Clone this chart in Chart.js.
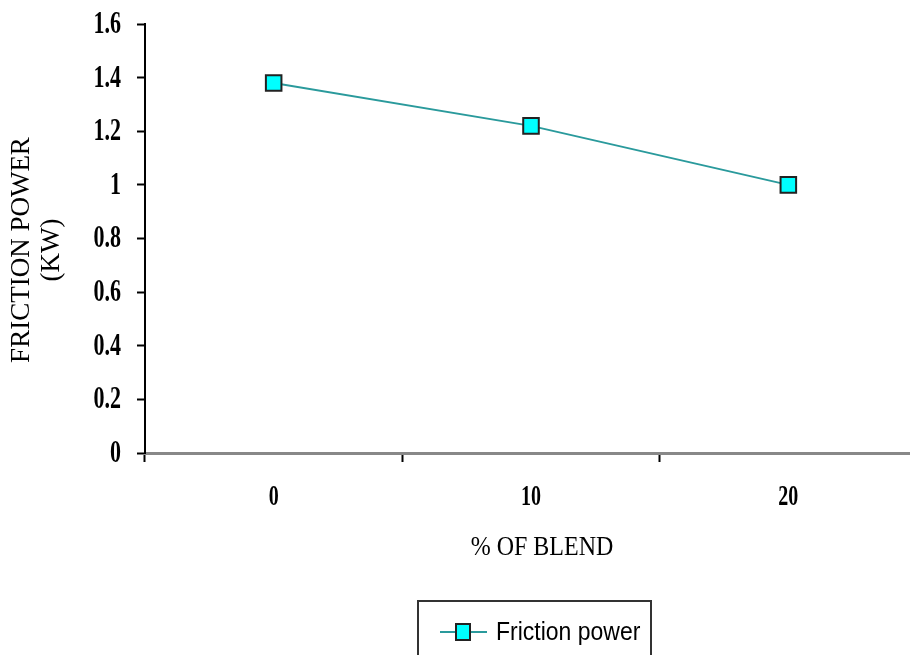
<!DOCTYPE html>
<html><head><meta charset="utf-8">
<script src="https://cdn.jsdelivr.net/npm/chart.js@4"></script>
<style>html,body{margin:0;padding:0;overflow:hidden;background:#fff;width:910px;height:655px}#wrap{width:930px;height:655px}</style>
</head><body><div id="wrap"><canvas id="c" width="930" height="655"></canvas></div>
<script>
const categories = ['0', '10', '20'];
const frictionPower = [1.38, 1.22, 1.0];
const seriesLabel = 'Friction power';
const yTicks = [0, 0.2, 0.4, 0.6, 0.8, 1, 1.2, 1.4, 1.6];
const xTitle = '% OF BLEND';
const yTitle = ['FRICTION POWER', '(KW)'];

const SERIF = '"Liberation Serif", "Times New Roman", serif';

function stretchText(ctx, text, x, y, sy, align) {
  ctx.save();
  ctx.translate(x, y);
  ctx.scale(1, sy);
  ctx.textAlign = align;
  ctx.textBaseline = 'middle';
  ctx.fillText(text, 0, 0);
  ctx.restore();
}

const textPlugin = {
  id: 'texts',
  afterDraw(chart) {
    const ctx = chart.ctx;
    const xs = chart.scales.x, ys = chart.scales.y;
    ctx.save();
    ctx.fillStyle = '#000';
    // y tick labels
    ctx.font = 'bold 22px ' + SERIF;
    yTicks.forEach(v => {
      stretchText(ctx, String(v), 121, ys.getPixelForValue(v) + 1, 1.4, 'right');
    });
    // x tick labels
    ctx.font = 'bold 20px ' + SERIF;
    categories.forEach((c, i) => {
      stretchText(ctx, c, xs.getPixelForValue(i), 497, 1.5, 'center');
    });
    // x title
    ctx.font = '24px ' + SERIF;
    stretchText(ctx, xTitle, 542, 548, 1.15, 'center');
    // y title (rotated)
    ctx.font = '27px ' + SERIF;
    const cy = 250;
    [[yTitle[0], 22], [yTitle[1], 52]].forEach(([t, x]) => {
      ctx.save();
      ctx.translate(x, cy);
      ctx.rotate(-Math.PI / 2);
      ctx.textAlign = 'center';
      ctx.textBaseline = 'middle';
      ctx.fillText(t, 0, 0);
      ctx.restore();
    });
    // legend
    const ds = chart.data.datasets[0];
    ctx.strokeStyle = '#333';
    ctx.lineWidth = 2;
    ctx.strokeRect(418, 601, 233, 70);
    ctx.strokeStyle = ds.borderColor;
    ctx.lineWidth = 2;
    ctx.beginPath(); ctx.moveTo(440, 632); ctx.lineTo(487, 632); ctx.stroke();
    ctx.fillStyle = ds.pointBackgroundColor;
    ctx.strokeStyle = '#222';
    ctx.fillRect(456, 624, 14, 16);
    ctx.strokeRect(456, 624, 14, 16);
    ctx.fillStyle = '#000';
    ctx.font = '23px "Liberation Sans", Arial, sans-serif';
    stretchText(ctx, ds.label, 496, 633, 1.15, 'left');
    ctx.restore();
  }
};

new Chart(document.getElementById('c'), {
  type: 'line',
  data: {
    labels: categories,
    datasets: [{
      label: seriesLabel,
      data: frictionPower,
      borderColor: '#2a9a9c',
      borderWidth: 2,
      pointStyle: 'rect',
      pointRadius: 11,
      pointBackgroundColor: '#00ffff',
      pointBorderColor: '#222',
      pointBorderWidth: 2,
      tension: 0
    }]
  },
  options: {
    responsive: false,
    animation: false,
    events: [],
    layout: { padding: { top: 24, right: 11, bottom: 82, left: 0 } },
    plugins: { legend: { display: false }, tooltip: { enabled: false } },
    scales: {
      x: {
        type: 'category',
        offset: true,
        afterFit(s) { s.height = 120; },
        border: { display: true, color: '#888', width: 3 },
        grid: { display: true, drawOnChartArea: false, drawTicks: true, tickLength: 9, tickColor: '#000', tickWidth: 2, offset: true },
        ticks: { display: false },
        title: { display: false }
      },
      y: {
        min: 0, max: 1.6,
        afterFit(s) { s.width = 145; },
        afterBuildTicks(s) { s.ticks = yTicks.map(v => ({ value: v })); },
        border: { display: true, color: '#000', width: 2 },
        grid: { display: true, drawOnChartArea: false, drawTicks: true, tickLength: 8, tickColor: '#000', tickWidth: 2 },
        ticks: { display: false },
        title: { display: false }
      }
    }
  },
  plugins: [textPlugin]
});
</script></body></html>
